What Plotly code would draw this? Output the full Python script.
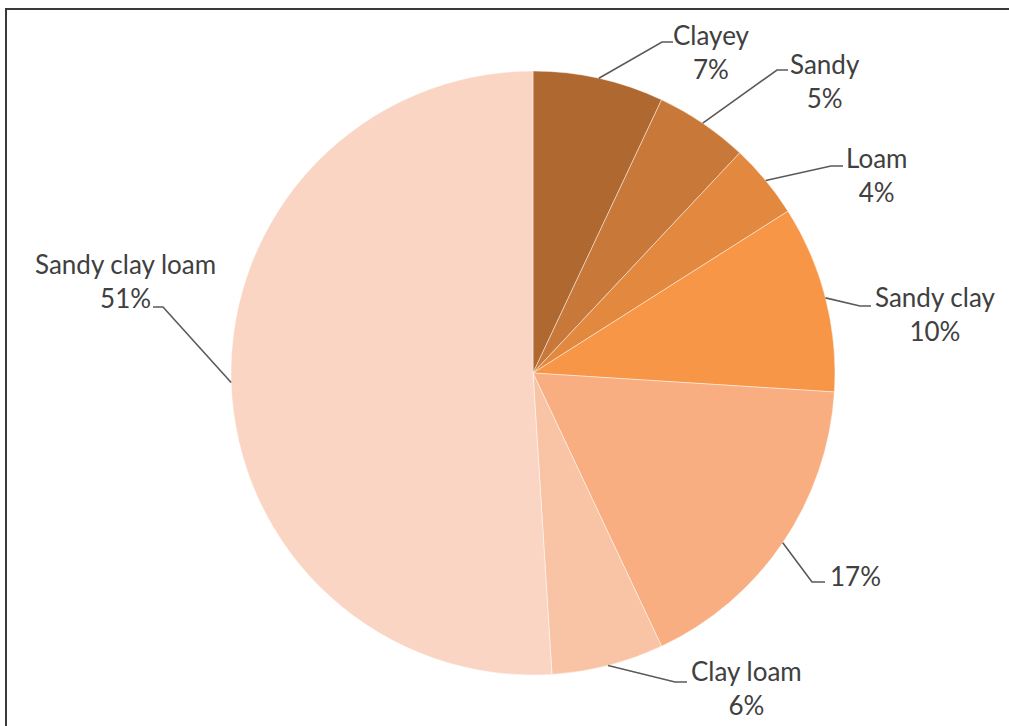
import math
import plotly.graph_objects as go

# Soil texture classes and their shares (%)
textures = ["Clayey", "Sandy", "Loam", "Sandy clay", "Sandy loam", "Clay loam", "Sandy clay loam"]
shares = [7, 5, 4, 10, 17, 6, 51]
show_name = [True, True, True, True, False, True, True]
colors = ["#ae6830", "#c87838", "#e2883f", "#f79646", "#f8ae80", "#f9c4a5", "#fad5c4"]

W, H = 1009, 726
CX, CY, R = 533, 373, 302  # pie centre and radius in pixels

# label placement (pixel centres) and leader-line elbow / end points
label_pos = [(711, 52), (825, 81), (876, 175), (935, 314), (855, 576), (746, 688), (125, 281)]
elbows = [(662, 42), (777, 70), (831, 166), (860, 306), (812, 582), (675, 682), (163, 307)]
ends = [(673, 42), (788, 70), (843, 166), (871, 306), (825, 582), (687, 682), (153, 307)]


def px(x):
    return x / W


def py(y):
    return 1 - y / H


fig = go.Figure()
fig.add_trace(go.Pie(
    labels=textures,
    values=shares,
    sort=False,
    direction="clockwise",
    rotation=0,
    marker=dict(colors=colors, line=dict(color="rgba(255,255,255,0.45)", width=1)),
    textinfo="none",
    hoverinfo="label+percent",
    showlegend=False,
    domain=dict(x=[px(CX - R), px(CX + R)], y=[py(CY + R), py(CY - R)]),
))

total = sum(shares)
cum = 0
shapes = []
annotations = []
for name, v, show, lp, el, en in zip(textures, shares, show_name, label_pos, elbows, ends):
    mid = (cum + v / 2) / total * 2 * math.pi
    cum += v
    ax = CX + R * math.sin(mid)
    ay = CY - R * math.cos(mid)
    path = f"M {px(ax)} {py(ay)} L {px(el[0])} {py(el[1])} L {px(en[0])} {py(en[1])}"
    shapes.append(dict(type="path", path=path, xref="paper", yref="paper",
                       line=dict(color="#5a5a5a", width=1.6)))
    pct = f"{round(v / total * 100)}%"
    txt = f"{name}<br>{pct}" if show else pct
    annotations.append(dict(
        x=px(lp[0]), y=py(lp[1]), xref="paper", yref="paper",
        text=txt, showarrow=False, xanchor="center", yanchor="middle",
        align="center", font=dict(family="Lato, Open Sans, sans-serif", size=26, color="#404040"),
    ))

# outer frame of the chart area
shapes.append(dict(type="rect", xref="paper", yref="paper",
                   x0=px(6), x1=px(W + 10), y0=py(H + 10), y1=py(9),
                   line=dict(color="#3a3a3a", width=2), fillcolor="rgba(0,0,0,0)"))

fig.update_layout(
    width=W, height=H,
    margin=dict(l=0, r=0, t=0, b=0),
    paper_bgcolor="white",
    plot_bgcolor="white",
    shapes=shapes,
    annotations=annotations,
)

fig.write_html("out.html")
